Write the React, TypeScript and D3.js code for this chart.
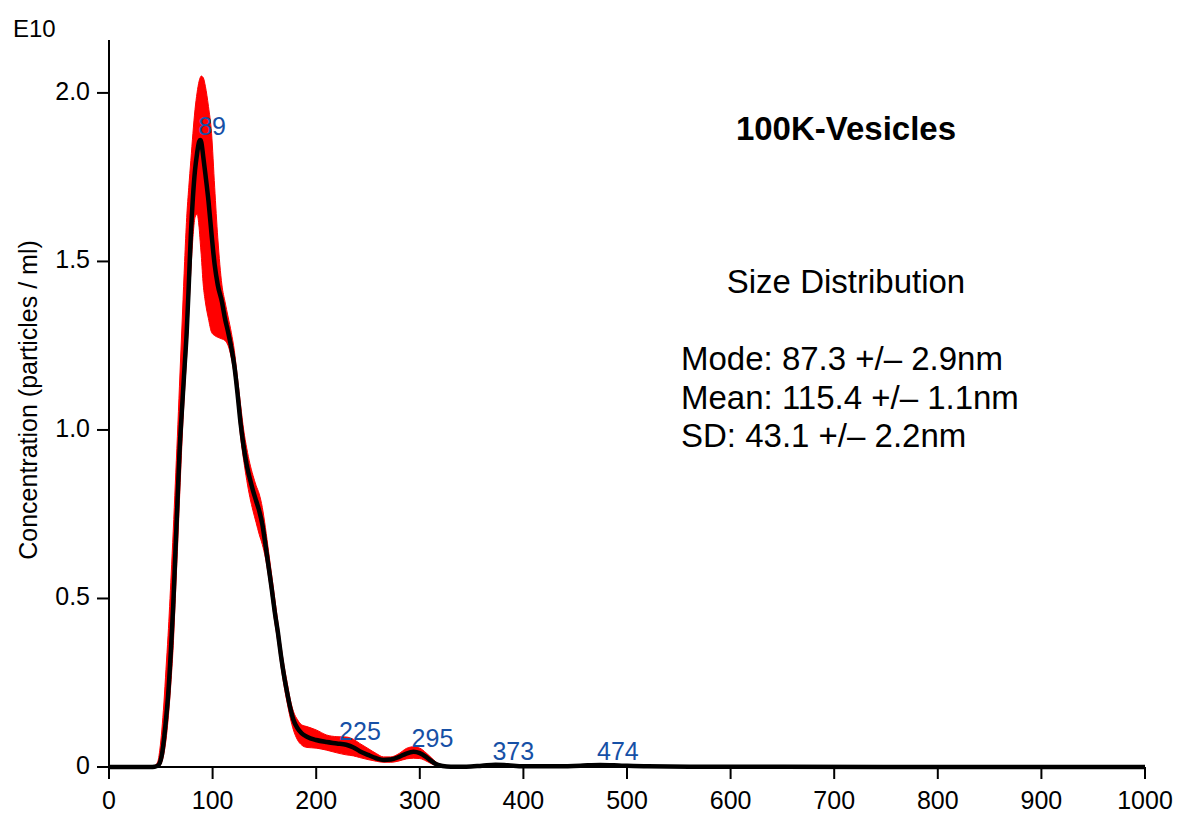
import React from "react";
import * as d3 from "d3";

// size (nm)
const sizes = [
  0, 40, 44, 47, 49, 51, 53, 55, 57, 60,
  62, 64, 66, 68, 71, 73, 75, 77, 79, 81,
  83, 85, 87, 88, 89, 91, 93, 96, 99, 102,
  105, 109, 112, 115, 118, 121, 124, 127, 130, 133,
  136, 139, 142, 145, 148, 151, 154, 157, 160, 163,
  166, 169, 172, 175, 178, 182, 186, 191, 200, 210,
  220, 229, 236, 242, 250, 258, 265, 272, 280, 287,
  294, 300, 306, 311, 316, 322, 330, 345, 360, 373,
  385, 400, 430, 455, 474, 495, 520, 560, 650, 800,
  1000,
];

// mean concentration (E10 particles / ml)
const meanConc = [
  0, 0, 0.001, 0.004, 0.012, 0.035, 0.08, 0.14, 0.21, 0.36,
  0.48, 0.63, 0.78, 0.93, 1.09, 1.19, 1.29, 1.43, 1.58, 1.69,
  1.77, 1.82, 1.855, 1.86, 1.855, 1.81, 1.76, 1.68, 1.58, 1.49,
  1.43, 1.38, 1.33, 1.29, 1.245, 1.19, 1.11, 1.02, 0.95, 0.895,
  0.855, 0.82, 0.79, 0.76, 0.72, 0.66, 0.595, 0.53, 0.46, 0.4,
  0.33, 0.27, 0.22, 0.175, 0.14, 0.115, 0.1, 0.09, 0.08, 0.074,
  0.07, 0.066, 0.058, 0.047, 0.036, 0.026, 0.021, 0.022, 0.03, 0.04,
  0.045, 0.041, 0.03, 0.018, 0.008, 0.003, 0.001, 0.001, 0.004, 0.007,
  0.005, 0.002, 0.002, 0.004, 0.006, 0.004, 0.002, 0.001, 0.0005, 0.0003,
  0,
];

// upper error bound
const upperConc = [
  0.001, 0.001, 0.004, 0.015, 0.05, 0.11, 0.19, 0.29, 0.39, 0.57,
  0.7, 0.84, 0.98, 1.13, 1.35, 1.5, 1.63, 1.72, 1.8, 1.88,
  1.95, 2.0, 2.035, 2.045, 2.05, 2.045, 2.02, 1.96, 1.88, 1.72,
  1.57, 1.43, 1.38, 1.335, 1.29, 1.235, 1.155, 1.075, 1.0, 0.945,
  0.9, 0.865, 0.835, 0.81, 0.77, 0.71, 0.64, 0.57, 0.5, 0.43,
  0.36, 0.3, 0.25, 0.2, 0.165, 0.14, 0.125, 0.12, 0.11, 0.095,
  0.09, 0.089, 0.082, 0.07, 0.055, 0.04, 0.03, 0.03, 0.04, 0.055,
  0.06, 0.056, 0.042, 0.028, 0.014, 0.006, 0.002, 0.002, 0.006, 0.01,
  0.008, 0.004, 0.003, 0.006, 0.008, 0.006, 0.003, 0.0015, 0.001, 0.0005,
  0,
];

// lower error bound
const lowerConc = [
  0, 0, 0, 0.001, 0.004, 0.015, 0.04, 0.08, 0.14, 0.26,
  0.36, 0.5, 0.64, 0.79, 1.0, 1.12, 1.22, 1.35, 1.47, 1.57,
  1.63, 1.64, 1.6, 1.56, 1.52, 1.43, 1.38, 1.33, 1.29, 1.28,
  1.275, 1.27, 1.265, 1.25, 1.215, 1.16, 1.08, 0.98, 0.91, 0.85,
  0.8, 0.76, 0.725, 0.69, 0.66, 0.62, 0.565, 0.5, 0.43, 0.37,
  0.3, 0.24, 0.19, 0.145, 0.11, 0.08, 0.065, 0.058, 0.056, 0.05,
  0.042, 0.036, 0.033, 0.028, 0.022, 0.017, 0.014, 0.014, 0.018, 0.024,
  0.026, 0.025, 0.018, 0.01, 0.004, 0.001, 0, 0, 0.002, 0.004,
  0.002, 0.001, 0.001, 0.002, 0.004, 0.002, 0.001, 0.0005, 0, 0,
  0,
];

const peakSizes = [89, 225, 295, 373, 474];
const peakHeights = [1.86, 0.066, 0.045, 0.007, 0.006];

const xTicks = [0, 100, 200, 300, 400, 500, 600, 700, 800, 900, 1000];
const yTicks = [0, 0.5, 1.0, 1.5, 2.0];
const yTickLabels = ["0", "0.5", "1.0", "1.5", "2.0"];

const title = "100K-Vesicles";
const subtitle = "Size Distribution";
const stats = ["Mode: 87.3 +/\u2013 2.9nm", "Mean: 115.4 +/\u2013 1.1nm", "SD: 43.1 +/\u2013 2.2nm"];
const yLabel = "Concentration (particles / ml)";
const yExponent = "E10";

const W = 1177;
const H = 815;
const FONT = "'Liberation Sans', Arial, Helvetica, sans-serif";

export default function App() {
  const x = d3.scaleLinear().domain([0, 1000]).range([109, 1145]);
  const y = d3.scaleLinear().domain([0, 2.157]).range([767, 40]);

  const idx = d3.range(sizes.length);
  const area = d3
    .area<number>()
    .x((i) => x(sizes[i]))
    .y0((i) => y(lowerConc[i]))
    .y1((i) => y(upperConc[i]))
    .curve(d3.curveMonotoneX);
  const line = d3
    .line<number>()
    .x((i) => x(sizes[i]))
    .y((i) => y(meanConc[i]))
    .curve(d3.curveMonotoneX);

  return (
    <svg
      width={W}
      height={H}
      style={{ position: "absolute", left: 0, top: 0, background: "#fff" }}
      fontFamily={FONT}
    >
      <rect x={0} y={0} width={W} height={H} fill="#fff" />
      <path d={area(idx) || ""} fill="#ff0000" stroke="#ff0000" strokeWidth={1} />
      <path d={line(idx) || ""} fill="none" stroke="#000" strokeWidth={4.5} strokeLinejoin="round" />

      {/* axes */}
      <line x1={x(0)} x2={x(1000)} y1={y(0)} y2={y(0)} stroke="#000" strokeWidth={2} />
      <line x1={x(0)} x2={x(0)} y1={y(0)} y2={40} stroke="#000" strokeWidth={2} />
      {xTicks.map((t) => (
        <g key={"xt" + t}>
          <line x1={x(t)} x2={x(t)} y1={y(0)} y2={y(0) + 12} stroke="#000" strokeWidth={2} />
          <text x={x(t)} y={809} textAnchor="middle" fontSize={25} fill="#000">
            {t}
          </text>
        </g>
      ))}
      {yTicks.map((t, i) => (
        <g key={"yt" + t}>
          <line x1={x(0) - 12} x2={x(0)} y1={y(t)} y2={y(t)} stroke="#000" strokeWidth={2} />
          <text x={90} y={y(t) + 7} textAnchor="end" fontSize={25} fill="#000">
            {yTickLabels[i]}
          </text>
        </g>
      ))}
      <text x={13} y={37} fontSize={24} fill="#000">
        {yExponent}
      </text>
      <text
        transform="translate(37,400) rotate(-90)"
        textAnchor="middle"
        fontSize={25}
        fill="#000"
      >
        {yLabel}
      </text>

      {/* peak labels */}
      {peakSizes.map((p, i) => (
        <text key={"pk" + p} x={x(p) - 3} y={y(peakHeights[i]) - 5} fontSize={25} fill="#1650a6">
          {p}
        </text>
      ))}

      {/* annotations */}
      <text x={846} y={140} textAnchor="middle" fontSize={33} fontWeight="bold" fill="#000">
        {title}
      </text>
      <text x={846} y={293} textAnchor="middle" fontSize={33} fill="#000">
        {subtitle}
      </text>
      {stats.map((s, i) => (
        <text key={"st" + i} x={681} y={370 + i * 38.5} fontSize={33} fill="#000">
          {s}
        </text>
      ))}
    </svg>
  );
}
